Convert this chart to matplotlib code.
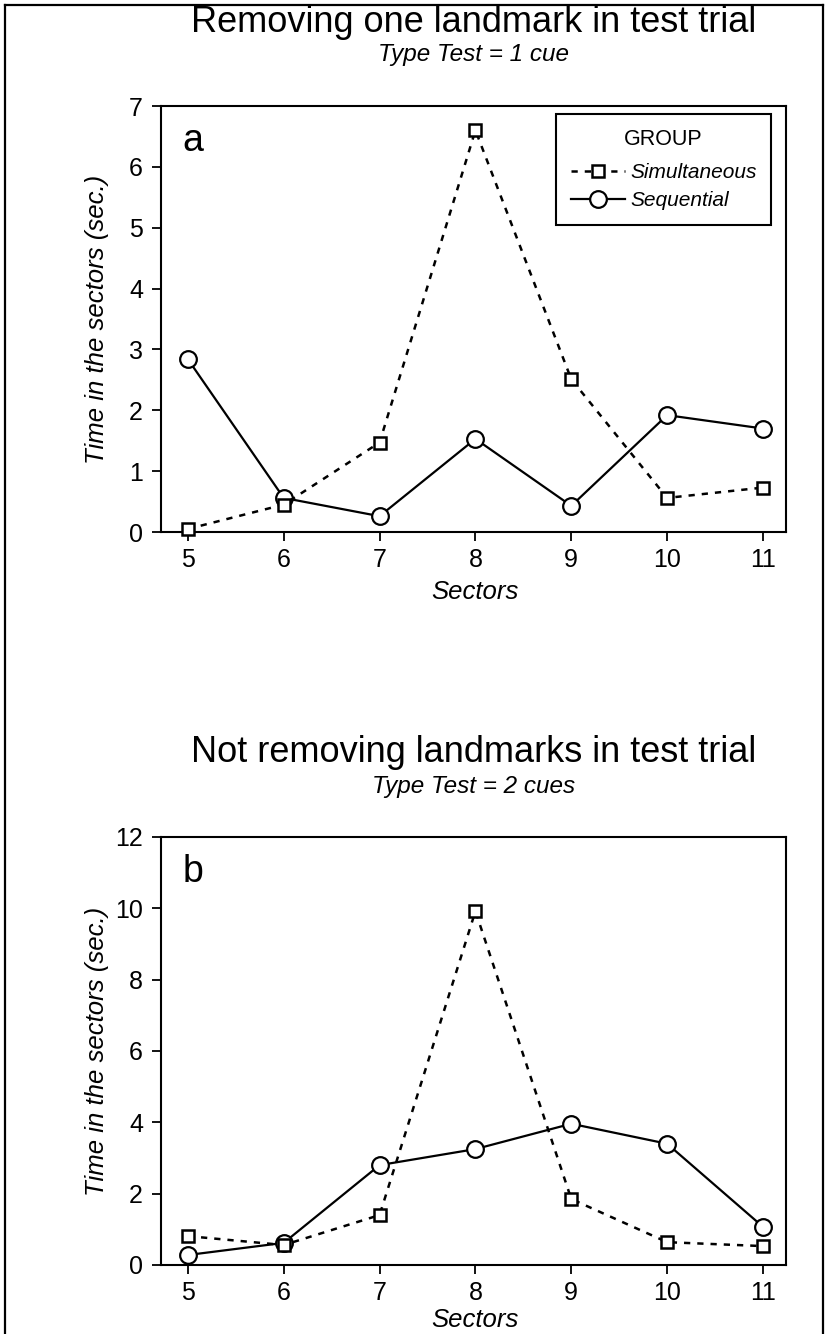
import matplotlib
matplotlib.use("Agg")
import matplotlib.pyplot as plt
from matplotlib.lines import Line2D

plt.rcParams['font.family'] = ['Liberation Sans', 'DejaVu Sans']

sectors = [5, 6, 7, 8, 9, 10, 11]

# panel a: one cue
sim_a = [0.05, 0.45, 1.47, 6.60, 2.51, 0.56, 0.73]
seq_a = [2.84, 0.56, 0.26, 1.53, 0.43, 1.92, 1.70]

# panel b: two cues
sim_b = [0.81, 0.56, 1.40, 9.92, 1.85, 0.64, 0.53]
seq_b = [0.28, 0.62, 2.80, 3.25, 3.96, 3.40, 1.07]

W, H = 826, 1334
fig = plt.figure(figsize=(W / 100, H / 100), dpi=100)


def fx(px):
    return px / W


def fy(py):
    return 1 - py / H


def panel(top, bottom, sim, seq, ymax, ystep, letter, title, subtitle,
          legend=False, xlab_y=-0.112):
    ax = fig.add_axes([fx(161), fy(bottom), fx(786) - fx(161), fy(top) - fy(bottom)])
    l_seq, = ax.plot(sectors, seq, color="black", lw=1.6, marker="o", ms=12,
                     mfc="white", mec="black", mew=1.6, clip_on=False, zorder=3)
    l_sim, = ax.plot(sectors, sim, color="black", lw=1.8, ls=(0, (2.5, 2.8)),
                     marker="s", ms=9, mfc="white", mec="black", mew=1.8,
                     clip_on=False, zorder=4)
    ax.set_xlim(4.72, 11.24)
    ax.set_ylim(0, ymax)
    ax.set_xticks(sectors)
    ax.set_yticks(range(0, ymax + 1, ystep))
    for s in ax.spines.values():
        s.set_linewidth(1.5)
    ax.tick_params(direction="out", length=6.5, width=1.3, labelsize=18,
                   top=False, right=False)
    ax.tick_params(axis="y", pad=6.5)
    ax.tick_params(axis="x", pad=5)
    ax.set_xlabel("Sectors", fontsize=18.5, style="italic")
    ax.set_ylabel("Time in the sectors (sec.)", fontsize=18.5, style="italic")
    ax.xaxis.set_label_coords(0.503, xlab_y)
    ax.yaxis.set_label_coords(-0.083, 0.5)
    ax.text(0.035, 0.895, letter, transform=ax.transAxes,
            fontsize=27, ha="left", va="baseline")
    cx = (161 + 786) / 2
    fig.text(fx(cx), fy(top - 84), title, fontsize=26, ha="center", va="center")
    fig.text(fx(cx), fy(top - 51), subtitle, fontsize=17.5, style="italic",
             ha="center", va="center")
    if legend:
        leg = ax.legend([l_sim, l_seq], ["Simultaneous", "Sequential"], title="GROUP",
                        loc="upper right", bbox_to_anchor=(fx(771), fy(114)),
                        bbox_transform=fig.transFigure, borderaxespad=0,
                        fancybox=False, edgecolor="black", framealpha=1,
                        prop={"size": 15, "style": "italic"}, title_fontsize=15.5,
                        handlelength=2.6, handletextpad=0.25, labelspacing=0.42,
                        borderpad=0.7)
        leg.get_frame().set_linewidth(1.5)
        # a bit more room under the title, as in the original
        leg._legend_box.sep = 10
    return ax


panel(106, 532, sim_a, seq_a, 7, 1, "a",
      "Removing one landmark in test trial", "Type Test = 1 cue", legend=True)
panel(837, 1265, sim_b, seq_b, 12, 2, "b",
      "Not removing landmarks in test trial", "Type Test = 2 cues", xlab_y=-0.1)

# outer frame (bottom edge is cut off in the original)
for xs, ys in [((fx(5), fx(5)), (fy(5), 0)), ((fx(5), fx(823)), (fy(5), fy(5))),
               ((fx(823), fx(823)), (fy(5), 0))]:
    fig.add_artist(Line2D(xs, ys, color="black", lw=1.6, transform=fig.transFigure))

fig.savefig("out.png", dpi=100)
